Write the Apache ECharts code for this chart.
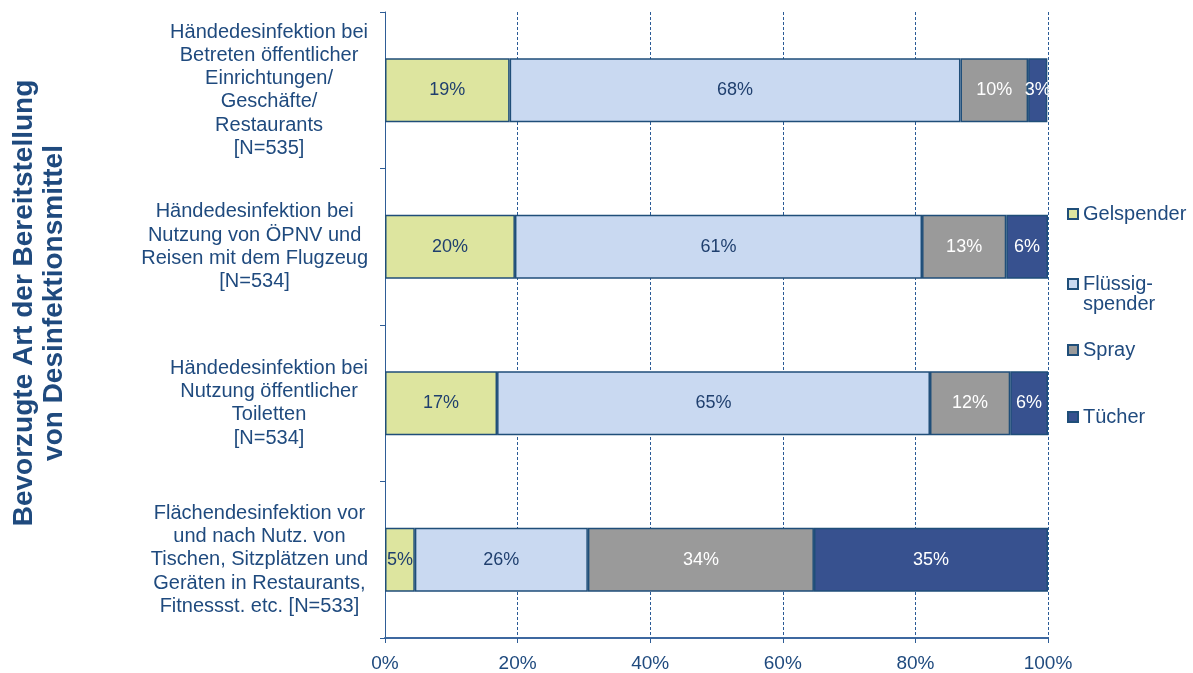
<!DOCTYPE html>
<html>
<head>
<meta charset="utf-8">
<script src="https://cdn.jsdelivr.net/npm/echarts@6/dist/echarts.min.js"></script>
<style>
html,body{margin:0;padding:0;background:#fff;}
#chart{width:1193px;height:673px;}
</style>
</head>
<body>
<div id="chart"></div>
<script>
const categories = [
  "Händedesinfektion bei\nBetreten öffentlicher\nEinrichtungen/\nGeschäfte/\nRestaurants\n[N=535]",
  "Händedesinfektion bei\nNutzung von ÖPNV und\nReisen mit dem Flugzeug\n[N=534]",
  "Händedesinfektion bei\nNutzung öffentlicher\nToiletten\n[N=534]",
  "Flächendesinfektion vor\nund nach Nutz. von\nTischen, Sitzplätzen und\nGeräten in Restaurants,\nFitnessst. etc. [N=533]"
];
const seriesNames = ["Gelspender", "Flüssig-\nspender", "Spray", "Tücher"];
const gelspender = [18.8, 19.6, 16.9, 4.5];
const fluessigspender = [68.0, 61.4, 65.3, 26.1];
const spray = [10.2, 12.7, 12.1, 34.1];
const tuecher = [2.9, 6.3, 5.7, 35.3];
const xTicks = [0, 20, 40, 60, 80, 100];
const yTitle = "Bevorzugte Art der Bereitstellung\nvon Desinfektionsmittel";

const colors = ["#dde59f", "#c9d9f1", "#9a9a9a", "#37518f"];
const labelColors = ["#1f3f6e", "#1f3f6e", "#ffffff", "#ffffff"];
const values = [gelspender, fluessigspender, spray, tuecher];
const textBlue = "#1f4a7e";
const FONT = "'Liberation Sans', Arial, sans-serif";

const series = seriesNames.map((name, i) => ({
  name: name,
  type: "bar",
  stack: "total",
  barWidth: 64,
  data: values[i],
  itemStyle: { color: colors[i], borderColor: "#1f4e79", borderWidth: 1.5 },
  label: {
    show: true,
    position: "inside",
    color: labelColors[i],
    fontFamily: FONT,
    fontSize: 18,
    formatter: p => Math.round(p.value) + "%"
  }
}));

const legendTops = [198, 249, 334, 401];
const legends = seriesNames.map((name, i) => ({
  data: [name],
  orient: "vertical",
  left: 1062,
  top: legendTops[i],
  icon: "rect",
  itemWidth: 10,
  itemHeight: 10,
  selectedMode: false,
  formatter: n => (n.indexOf("\n") >= 0 ? " \n" + n : n),
  textStyle: {
    color: textBlue,
    fontFamily: FONT,
    fontSize: 20,
    lineHeight: i === 1 ? 20 : 22
  }
}));

const chart = echarts.init(document.getElementById("chart"));
chart.setOption({
  backgroundColor: "#ffffff",
  animation: false,
  grid: { left: 385, right: 145, top: 12, bottom: 35, containLabel: false, outerBoundsMode: "none" },
  legend: legends,
  graphic: [{
    type: "text",
    x: 39,
    y: 303,
    rotation: Math.PI / 2,
    style: {
      text: yTitle,
      fill: "#1f4a7e",
      font: "bold 28px " + FONT,
      lineHeight: 30,
      align: "center",
      verticalAlign: "middle"
    }
  }],
  xAxis: {
    type: "value",
    min: xTicks[0],
    max: xTicks[xTicks.length - 1],
    interval: 20,
    axisLine: { show: true, lineStyle: { color: "#3d68a0", width: 2 } },
    axisTick: { show: true, length: 5, lineStyle: { color: "#2f5d96" } },
    axisLabel: {
      color: textBlue, fontFamily: FONT, fontSize: 19, margin: 16,
      formatter: v => v + "%"
    },
    splitLine: { show: true, lineStyle: { color: "#2a5a96", type: [3, 2], width: 1 } }
  },
  yAxis: {
    type: "category",
    inverse: true,
    data: categories,
    axisLine: { show: true, lineStyle: { color: "#2f5d96", width: 1 } },
    axisTick: { show: true, length: 5, lineStyle: { color: "#2f5d96" } },
    axisLabel: {
      margin: 17,
      formatter: v => "{c|" + v + "}",
      rich: {
        c: { color: textBlue, fontFamily: FONT, fontSize: 20, lineHeight: 23.3, align: "center" }
      }
    }
  },
  series: series
});
</script>
</body>
</html>
